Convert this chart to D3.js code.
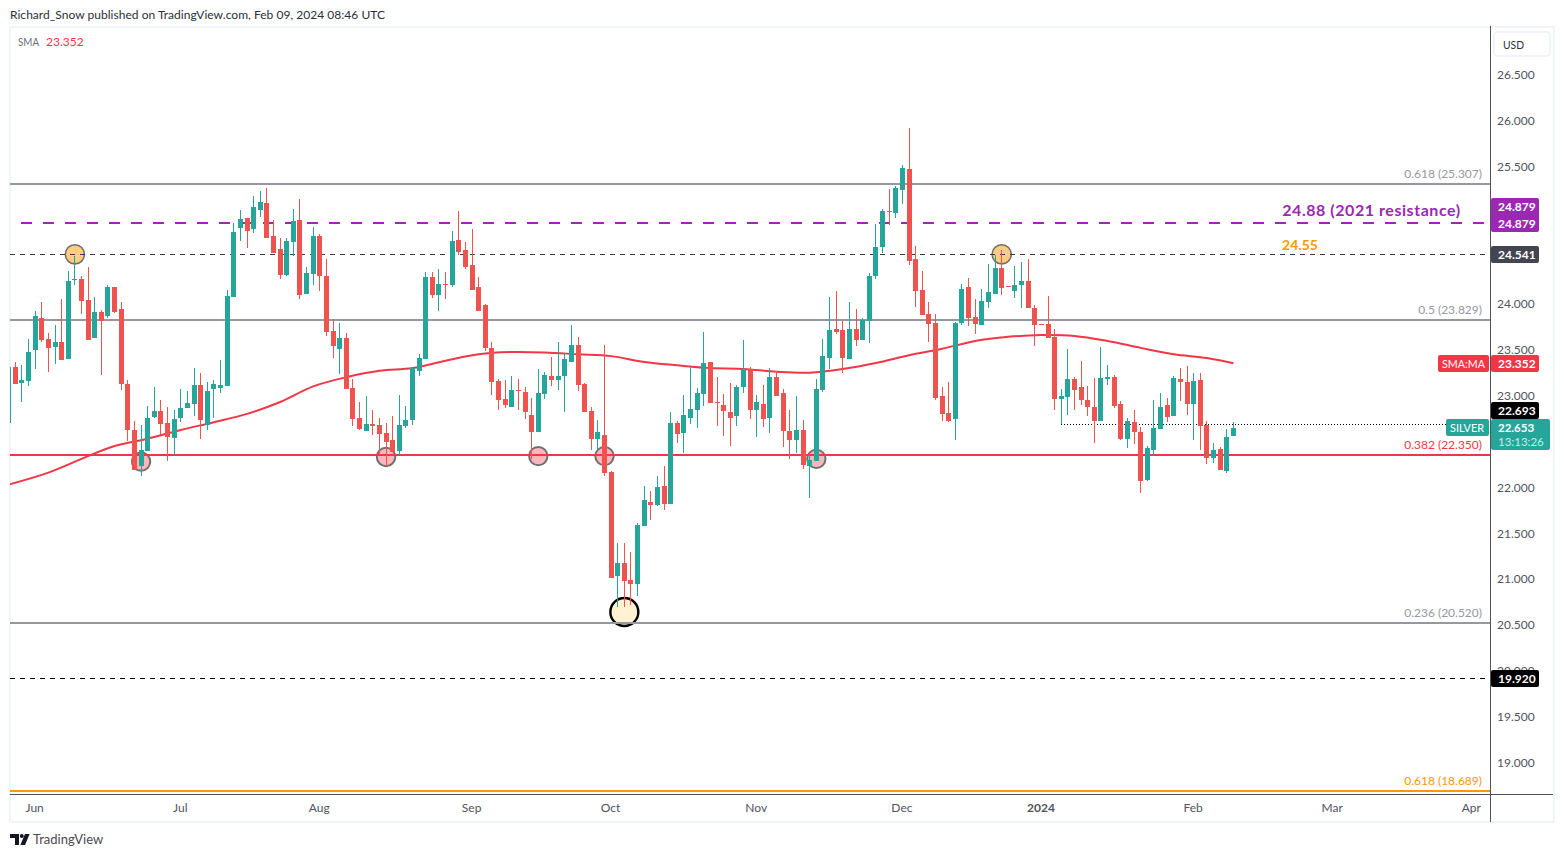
<!DOCTYPE html>
<html>
<head>
<meta charset="utf-8">
<script src="https://cdn.jsdelivr.net/npm/d3@7/dist/d3.min.js"></script>
<style>
html,body{margin:0;padding:0;background:#fff;overflow:hidden}
svg{display:block}
text{font-family:"Lato","Noto Sans",sans-serif}
</style>
</head>
<body>
<svg id="c" width="1564" height="857"></svg>
<script>
// first bar is the partly clipped one at the pane's left edge (bar number -1)
const firstBar = -1;
const opens = [22.70,
23.31,23.14,23.16,23.50,23.85,23.62,23.53,23.58,23.40,24.26,
24.27,24.04,23.63,23.91,23.87,24.18,23.94,23.13,22.62,22.23,
22.40,22.77,22.83,22.70,22.54,22.76,22.86,22.91,23.12,22.68,
23.07,23.08,23.10,24.07,24.83,24.94,24.82,25.02,25.10,24.74,
24.60,24.31,24.67,24.91,24.11,24.33,24.74,24.30,23.70,23.51,
23.63,23.08,22.76,22.61,22.69,22.68,22.59,22.52,22.40,22.67,
22.73,23.27,23.40,24.29,24.10,24.22,24.21,24.70,24.59,24.42,
24.18,23.99,23.52,23.16,22.96,22.88,23.06,23.04,22.79,22.60,
23.02,23.21,23.17,23.21,23.37,23.55,23.13,22.83,22.53,22.57,
22.17,21.03,21.18,20.99,20.95,21.58,21.84,21.81,22.01,21.82,
22.70,22.59,22.76,22.84,23.02,23.37,22.93,22.90,22.82,22.78,
23.09,23.29,22.84,22.91,22.76,23.20,23.03,22.61,22.52,22.63,
22.23,22.29,23.06,23.41,23.73,23.71,23.40,23.73,23.61,23.81,
24.30,24.62,25.01,24.99,25.24,25.47,24.49,24.15,23.89,23.79,
22.99,22.81,22.74,23.79,24.18,23.86,23.77,24.02,24.11,24.39,
24.19,24.14,24.20,24.25,23.96,23.78,23.78,23.64,22.96,22.98,
23.18,23.09,22.95,22.88,22.72,23.18,23.20,22.91,22.53,22.71,
22.60,22.08,22.41,22.64,22.90,22.78,23.18,23.15,22.91,23.17,
22.68,22.32,22.42,22.18,22.56];
const highs = [23.31,
23.37,23.33,23.62,23.92,24.02,23.68,23.77,24.05,24.36,24.52,
24.30,24.40,24.07,23.93,24.21,24.18,24.02,23.17,22.72,22.68,
22.89,23.09,22.95,22.88,22.84,23.07,23.05,23.30,23.25,23.15,
23.17,23.39,24.15,24.88,25.02,24.94,25.18,25.23,25.26,24.91,
24.72,24.72,25.03,25.14,24.40,24.84,24.76,24.49,23.83,23.79,
23.68,23.18,22.93,23.00,22.84,22.76,22.70,22.78,23.01,22.89,
23.30,23.45,24.35,24.35,24.38,24.35,24.79,25.01,24.67,24.82,
24.29,24.00,23.58,23.18,23.17,23.21,23.18,23.09,22.97,23.29,
23.26,23.42,23.58,23.46,23.77,23.64,23.14,22.88,22.73,23.55,
22.18,21.39,21.39,21.30,21.61,22.01,21.96,22.12,22.23,22.82,
22.72,23.01,23.31,23.08,23.69,23.37,23.20,23.02,23.14,23.12,
23.61,23.31,23.01,23.12,23.30,23.27,23.07,22.84,22.99,22.73,
22.35,23.18,23.62,24.07,24.14,23.81,24.02,23.94,23.85,24.34,
24.87,25.03,25.25,25.28,25.51,25.92,24.63,24.36,24.02,23.89,
23.09,23.15,23.80,24.22,24.28,24.05,24.16,24.43,24.53,24.59,
24.19,24.41,24.46,24.49,23.99,23.78,24.09,23.73,23.07,23.51,
23.20,23.38,23.10,23.19,23.53,23.33,23.22,22.94,22.76,22.84,
22.66,22.45,22.95,23.03,22.97,23.21,23.30,23.32,23.25,23.25,
22.72,22.48,22.44,22.64,22.71];
const lows = [22.70,
23.13,22.93,23.10,23.29,23.58,23.26,23.34,23.39,23.40,24.21,
23.89,23.61,23.63,23.22,23.85,23.90,23.06,22.50,22.19,22.12,
22.40,22.76,22.57,22.29,22.35,22.71,22.86,22.78,22.53,22.62,
22.76,23.03,23.10,24.07,24.68,24.61,24.77,24.95,24.72,24.55,
24.27,24.30,24.52,24.05,24.11,24.21,24.14,23.65,23.41,23.24,
23.07,22.67,22.63,22.61,22.57,22.35,22.23,22.38,22.35,22.65,
22.68,23.21,23.40,24.06,23.92,24.05,24.18,24.53,24.38,24.15,
23.92,23.49,23.01,22.84,22.86,22.88,22.84,22.74,22.31,22.60,
22.96,23.10,23.06,22.82,23.37,23.05,22.82,22.41,22.41,22.12,
21.01,20.70,20.70,20.72,20.82,21.58,21.64,21.80,21.75,21.82,
22.48,22.37,22.69,22.65,22.89,22.92,22.67,22.56,22.45,22.67,
23.03,22.75,22.55,22.66,22.59,23.00,22.44,22.31,22.37,22.20,
21.88,22.29,23.04,23.29,23.67,23.25,23.40,23.54,23.61,23.57,
24.27,24.55,24.86,24.94,25.09,24.42,23.97,23.88,23.58,22.95,
22.72,22.71,22.52,23.77,23.76,23.67,23.77,23.96,24.11,24.10,
24.18,24.06,23.95,23.95,23.54,23.77,23.63,22.84,22.69,22.79,
22.84,22.90,22.78,22.48,22.72,23.11,22.86,22.52,22.43,22.47,
21.94,22.07,22.34,22.64,22.71,22.78,22.94,22.79,22.52,22.41,
22.25,22.26,22.19,22.16,22.56];
const closes = [23.31,
23.13,23.17,23.47,23.87,23.61,23.52,23.58,23.39,24.25,24.27,
24.03,23.61,23.91,23.81,24.18,23.91,23.13,22.62,22.19,22.41,
22.76,22.83,22.69,22.55,22.74,22.86,22.92,23.12,22.73,23.05,
23.13,23.12,24.09,24.78,24.92,24.79,25.06,25.11,24.72,24.55,
24.31,24.69,24.90,24.10,24.34,24.74,24.30,23.69,23.54,23.63,
23.07,22.74,22.64,22.69,22.67,22.58,22.49,22.38,22.68,22.73,
23.30,23.41,24.29,24.10,24.22,24.21,24.69,24.57,24.40,24.15,
23.92,23.52,23.15,22.95,22.90,23.06,23.05,22.82,22.60,23.03,
23.22,23.17,23.21,23.40,23.55,23.12,22.82,22.53,22.60,22.16,
21.01,21.18,20.98,20.95,21.59,21.86,21.81,22.00,21.82,22.70,
22.58,22.79,22.85,23.03,23.36,22.92,22.92,22.83,22.76,23.09,
23.29,22.84,22.93,22.75,23.20,23.00,22.61,22.52,22.63,22.24,
22.30,23.07,23.43,23.71,23.69,23.41,23.73,23.61,23.82,24.30,
24.62,25.01,25.00,25.26,25.48,24.47,24.14,23.88,23.78,22.97,
22.80,22.72,23.79,24.16,23.85,23.78,24.03,24.13,24.39,24.17,
24.18,24.20,24.25,23.96,23.77,23.77,23.63,22.96,22.99,23.18,
23.06,22.95,22.88,22.72,23.19,23.20,22.89,22.53,22.72,22.60,
22.07,22.43,22.65,22.88,22.77,23.19,23.15,22.91,23.16,22.67,
22.32,22.41,22.19,22.55,22.65];

const smaBars = [-1,5,10,15,20,25,30,35,40,45,50,55,60,65,70,75,80,85,90,95,100,105,110,115,120,125,130,135,140,145,150,155,160,165,170,175,180,184];
const smaValues = [22.03,22.16,22.31,22.45,22.53,22.625,22.71,22.80,22.93,23.10,23.20,23.27,23.30,23.38,23.45,23.475,23.47,23.45,23.43,23.366,23.33,23.30,23.29,23.26,23.25,23.29,23.355,23.44,23.51,23.595,23.64,23.66,23.65,23.595,23.52,23.45,23.41,23.352];

// 22.5, 24.5 and 25.0 sit behind price tags in the reference and are not shown
const priceTicks = [19,19.5,20,20.5,21,21.5,22,23,23.5,24,25.5,26,26.5];
const timeTickBars = [3,25,46,69,90,112,134,155,178,199,220];
const timeTickLabels = ["Jun","Jul","Aug","Sep","Oct","Nov","Dec","2024","Feb","Mar","Apr"];

const fibPrices = [25.307,23.829,22.350,20.520,18.689];
const fibLabels = ["0.618 (25.307)","0.5 (23.829)","0.382 (22.350)","0.236 (20.520)","0.618 (18.689)"];
const fibColors = ["#9598a1","#9598a1","#f23645","#9598a1","#ff9800"];
const fibLabelColors = ["#9598a1","#9598a1","#f23645","#9598a1","#ff9800"];

const circleBars = [9,149,19,56,79,89,121,92];
const circlePrices = [24.54,24.54,22.28,22.33,22.34,22.34,22.31,20.64];
const circleKinds = ["o","o","p","p","p","p","p","b"];

const resistance = 24.879, support = 24.541, lowerLevel = 19.920, prevClose = 22.653, smaLast = 23.352, high2 = 22.693;

const W = 1564, H = 857;
const paneL = 10, paneR = 1490, paneT = 28, paneB = 795;
const up = "#26a69a", down = "#ef5350", smaColor = "#f23645", axisColor = "#50535e", frame = "#f0f3fa", tickColor = "#50535e";

const x = d3.scaleLinear().domain([0,184]).range([15.3,1233.4]);
const y = d3.scaleLinear().domain([19,26.5]).range([762.5,74.5]);

const bars = opens.map((o,i)=>({bar:firstBar+i,o,h:highs[i],l:lows[i],c:closes[i]}));
const svg = d3.select("#c");
svg.append("defs").append("clipPath").attr("id","pane").append("rect")
  .attr("x",paneL).attr("y",paneT).attr("width",paneR-paneL).attr("height",paneB-paneT);

// outer frame
svg.append("rect").attr("x",10).attr("y",27).attr("width",1544).attr("height",795)
  .attr("fill","none").attr("stroke",frame).attr("stroke-width",2);

// header
svg.append("text").attr("x",10).attr("y",19).attr("font-size",12).attr("letter-spacing",".03").attr("fill","#2a2e39")
  .text("Richard_Snow published on TradingView.com, Feb 09, 2024 08:46 UTC");
svg.append("text").attr("x",18).attr("y",46).attr("font-size",12).attr("textLength",21).attr("lengthAdjust","spacingAndGlyphs").attr("fill","#6a6d78").text("SMA");
svg.append("text").attr("x",46).attr("y",46).attr("font-size",12).attr("fill",smaColor).text(smaLast.toFixed(3));

const pane = svg.append("g").attr("clip-path","url(#pane)");

// circles marking touches of support/resistance
const circStyle = {
  o:{r:9.6,fill:"#ffcc80",stroke:"#6f6f6f",sw:1.6},
  p:{r:9.2,fill:"#fcb6bc",stroke:"#707070",sw:2},
  b:{r:14,fill:"#fff1d2",stroke:"#000",sw:2.4}
};
pane.append("g").selectAll("circle").data(circleBars).join("circle")
  .attr("cx",d=>x(d)).attr("cy",(d,i)=>y(circlePrices[i]))
  .attr("r",(d,i)=>circStyle[circleKinds[i]].r)
  .attr("fill",(d,i)=>circStyle[circleKinds[i]].fill)
  .attr("stroke",(d,i)=>circStyle[circleKinds[i]].stroke)
  .attr("stroke-width",(d,i)=>circStyle[circleKinds[i]].sw);

// fib levels
const crisp = v => Math.round(v);
pane.append("g").selectAll("line").data(fibPrices).join("line")
  .attr("x1",paneL).attr("x2",paneR)
  .attr("y1",d=>crisp(y(d))).attr("y2",d=>crisp(y(d)))
  .attr("stroke",(d,i)=>fibColors[i]).attr("stroke-width",2).attr("shape-rendering","crispEdges");
svg.append("g").selectAll("text").data(fibPrices).join("text")
  .attr("x",1482).attr("y",d=>crisp(y(d))-6).attr("text-anchor","end").attr("font-size",12)
  .attr("fill",(d,i)=>fibLabelColors[i]).text((d,i)=>fibLabels[i]);

// resistance lines
pane.append("line").attr("x1",21).attr("x2",paneR).attr("y1",crisp(y(resistance))).attr("y2",crisp(y(resistance)))
  .attr("stroke","#9c27b0").attr("stroke-width",2).attr("stroke-dasharray","11,11").attr("shape-rendering","crispEdges");
pane.append("line").attr("x1",paneL).attr("x2",paneR).attr("y1",crisp(y(support))+.5).attr("y2",crisp(y(support))+.5)
  .attr("stroke","#363a45").attr("stroke-width",1).attr("stroke-dasharray","5,5").attr("shape-rendering","crispEdges");
pane.append("line").attr("x1",paneL).attr("x2",paneR).attr("y1",crisp(y(lowerLevel))+.5).attr("y2",crisp(y(lowerLevel))+.5)
  .attr("stroke","#000").attr("stroke-width",1).attr("stroke-dasharray","5,5").attr("shape-rendering","crispEdges");

// SMA
const smaLine = d3.line().x(d=>x(d[0])).y(d=>y(d[1])).curve(d3.curveCatmullRom.alpha(.5));
pane.append("path").attr("d",smaLine(smaBars.map((b,i)=>[b,smaValues[i]])))
  .attr("fill","none").attr("stroke",smaColor).attr("stroke-width",2);

// last price dotted line (sits 3 px higher than the last close row)
pane.append("line").attr("x1",x(158)).attr("x2",paneR).attr("y1",424.5).attr("y2",424.5)
  .attr("stroke","#000").attr("stroke-width",1).attr("stroke-dasharray","1,2").attr("shape-rendering","crispEdges");

// candles
const cg = pane.append("g").attr("shape-rendering","crispEdges");
cg.selectAll("rect.w").data(bars).join("rect").attr("class","w")
  .attr("x",d=>Math.round(x(d.bar)-2.5)+2).attr("width",1)
  .attr("y",d=>Math.round(y(d.h))).attr("height",d=>Math.max(1,Math.round(y(d.l))-Math.round(y(d.h))))
  .attr("fill",d=>d.c>=d.o?up:down);
cg.selectAll("rect.b").data(bars).join("rect").attr("class","b")
  .attr("x",d=>Math.round(x(d.bar)-2.5)).attr("width",5)
  .attr("y",d=>Math.round(y(Math.max(d.o,d.c))))
  .attr("height",d=>Math.max(1,Math.round(y(Math.min(d.o,d.c)))-Math.round(y(Math.max(d.o,d.c)))))
  .attr("fill",d=>d.c>=d.o?up:down);

// drawing labels
svg.append("text").attr("x",1371.5).attr("y",216).attr("text-anchor","middle").attr("font-size",16).attr("font-weight",700)
  .attr("letter-spacing",".55").attr("fill","#9c27b0").text("24.88 (2021 resistance)");
svg.append("text").attr("x",1300).attr("y",250).attr("text-anchor","middle").attr("font-size",14).attr("font-weight",700)
  .attr("fill","#ff9800").text("24.55");

// axes
const yAxis = d3.axisRight(y).tickValues(priceTicks).tickFormat(d3.format(".3f")).tickSize(0).tickPadding(7);
const yg = svg.append("g").attr("transform",`translate(${paneR},0)`).call(yAxis);
yg.select(".domain").remove();
yg.selectAll("text").attr("font-size",12).attr("font-family",'"Lato","Noto Sans",sans-serif').attr("fill",tickColor);

const xAxis = d3.axisBottom(x).tickValues(timeTickBars).tickFormat((d,i)=>timeTickLabels[i]).tickSize(0).tickPadding(8);
const xg = svg.append("g").attr("transform",`translate(-1,${paneB})`).call(xAxis);
xg.select(".domain").remove();
xg.selectAll("text").attr("font-size",12).attr("font-family",'"Lato","Noto Sans",sans-serif').attr("fill",tickColor)
  .attr("font-weight",(d,i)=>timeTickLabels[i]==="2024"?700:400);

// axis lines
svg.append("line").attr("x1",paneR+.5).attr("x2",paneR+.5).attr("y1",paneT-2).attr("y2",822).attr("stroke",axisColor).attr("shape-rendering","crispEdges");
svg.append("line").attr("x1",paneL).attr("x2",1553).attr("y1",794.5).attr("y2",794.5).attr("stroke",axisColor).attr("shape-rendering","crispEdges");

// USD button
svg.append("rect").attr("x",1494).attr("y",32).attr("width",56).attr("height",24).attr("rx",4)
  .attr("fill","#fff").attr("stroke",frame).attr("stroke-width",2);
svg.append("text").attr("x",1503).attr("y",49).attr("font-size",12).attr("textLength",21).attr("lengthAdjust","spacingAndGlyphs").attr("fill","#2a2e39").text("USD");

// price tags
function tag(x0,y0,w,h,fill,lines){
  svg.append("rect").attr("x",x0).attr("y",y0).attr("width",w).attr("height",h).attr("rx",2).attr("fill",fill);
  lines.forEach(l=>{
    const t = svg.append("text").attr("x",l.x).attr("y",l.y).attr("font-size",l.s||12).attr("font-weight",l.w||700)
      .attr("fill",l.c||"#fff").text(l.t);
    if(l.len) t.attr("textLength",l.len).attr("lengthAdjust","spacingAndGlyphs");
  });
}
const tagX = 1491;
tag(tagX,198,48,34,"#9c27b0",[{x:1498,y:211,t:resistance.toFixed(3)},{x:1498,y:228,t:resistance.toFixed(3)}]);
tag(tagX,246,48,17,"#434651",[{x:1498,y:259,t:support.toFixed(3)}]);
tag(1438,355,51,17,smaColor,[{x:1442,y:368,t:"SMA:MA",w:400,len:43}]);
tag(tagX,355,48,17,smaColor,[{x:1498,y:368,t:smaLast.toFixed(3)}]);
tag(tagX,402,48,17,"#000",[{x:1498,y:415,t:high2.toFixed(3)}]);
tag(1446,419,43,17,up,[{x:1450,y:432,t:"SILVER",w:400,len:34}]);
tag(tagX,419,59,31,up,[{x:1498,y:432,t:prevClose.toFixed(3),s:11.5},{x:1498,y:446,t:"13:13:26",c:"#c9ebe7",w:400,s:11.5}]);
tag(tagX,670,48,17,"#000",[{x:1498,y:683,t:lowerLevel.toFixed(3)}]);

// logo
const logo = svg.append("g").attr("fill","#131722");
logo.append("path").attr("d","M10 834h9v11h-4v-7h-5z");
logo.append("circle").attr("cx",21.8).attr("cy",836).attr("r",2);
logo.append("path").attr("d","M25 834h4.6l-4.6 11h-4.6z");
svg.append("text").attr("x",33).attr("y",844).attr("font-size",13).attr("fill","#4a4a4f").text("TradingView");
</script>
</body>
</html>
